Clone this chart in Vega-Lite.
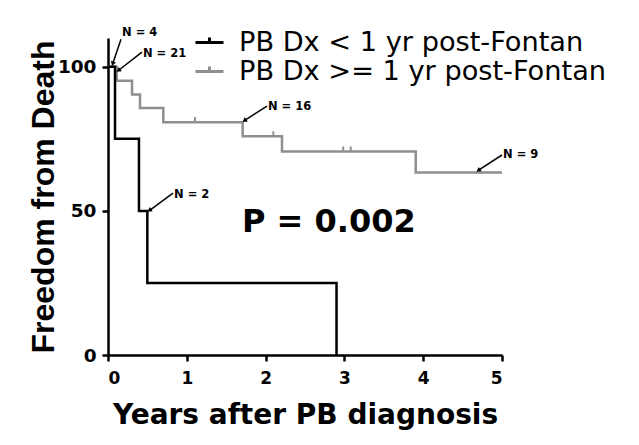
{
  "$schema": "https://vega.github.io/schema/vega-lite/v6.json",
  "width": 394,
  "height": 317,
  "autosize": {"type": "none"},
  "padding": {"left": 108, "top": 38, "right": 137, "bottom": 90},
  "background": "white",
  "config": {
    "view": {"stroke": null},
    "axis": {
      "grid": false,
      "domainColor": "black",
      "domainWidth": 2.5,
      "tickColor": "black",
      "tickWidth": 2.5,
      "tickSize": 6,
      "labelFont": "DejaVu Sans",
      "labelFontWeight": "bold",
      "labelFontSize": 17,
      "labelColor": "black",
      "titleColor": "black"
    }
  },
  "datasets": {
    "curves": [
      {"group": "PB Dx < 1 yr post-Fontan", "t": 0, "s": 100},
      {"group": "PB Dx < 1 yr post-Fontan", "t": 0.089, "s": 75},
      {"group": "PB Dx < 1 yr post-Fontan", "t": 0.393, "s": 50},
      {"group": "PB Dx < 1 yr post-Fontan", "t": 0.499, "s": 25},
      {"group": "PB Dx < 1 yr post-Fontan", "t": 2.9, "s": 0},
      {"group": "PB Dx >= 1 yr post-Fontan", "t": 0, "s": 100},
      {"group": "PB Dx >= 1 yr post-Fontan", "t": 0.11, "s": 95.2},
      {"group": "PB Dx >= 1 yr post-Fontan", "t": 0.305, "s": 90.4},
      {"group": "PB Dx >= 1 yr post-Fontan", "t": 0.406, "s": 85.7},
      {"group": "PB Dx >= 1 yr post-Fontan", "t": 0.702, "s": 80.8},
      {"group": "PB Dx >= 1 yr post-Fontan", "t": 1.709, "s": 75.9},
      {"group": "PB Dx >= 1 yr post-Fontan", "t": 2.208, "s": 70.6},
      {"group": "PB Dx >= 1 yr post-Fontan", "t": 3.905, "s": 63.3},
      {"group": "PB Dx >= 1 yr post-Fontan", "t": 5.0, "s": 63.3}
    ],
    "censor": [
      {"t": 1.104, "s": 80.8},
      {"t": 2.098, "s": 75.9},
      {"t": 2.985, "s": 70.6},
      {"t": 3.08, "s": 70.6}
    ],
    "arrows": [
      {"label": "N = 4", "t1": 0.165, "s1": 109.6, "t2": 0.063, "s2": 101.3},
      {"label": "N = 21", "t1": 0.431, "s1": 105.1, "t2": 0.14, "s2": 98.9},
      {"label": "N = 16", "t1": 2.018, "s1": 86.4, "t2": 1.739, "s2": 81.5},
      {"label": "N = 2", "t1": 0.825, "s1": 56.2, "t2": 0.533, "s2": 50.3},
      {"label": "N = 9", "t1": 5.0, "s1": 69.4, "t2": 4.708, "s2": 64.2}
    ],
    "notes": [
      {"label": "N = 4", "t": 0.178, "s": 111.7},
      {"label": "N = 21", "t": 0.444, "s": 104.4},
      {"label": "N = 16", "t": 2.03, "s": 86.0},
      {"label": "N = 2", "t": 0.838, "s": 55.5},
      {"label": "N = 9", "t": 5.013, "s": 69.4}
    ],
    "pval": [
      {"label": "P = 0.002", "t": 1.70, "s": 42.7}
    ]
  },
  "layer": [
    {
      "data": {"name": "curves"},
      "transform": [{"filter": "datum.group === 'PB Dx >= 1 yr post-Fontan'"}],
      "mark": {"type": "line", "interpolate": "step-after", "strokeWidth": 2.5},
      "encoding": {
        "x": {
          "field": "t", "type": "quantitative",
          "scale": {"domain": [0, 5], "nice": false, "zero": false},
          "axis": {
            "values": [0, 1, 2, 3, 4, 5],
            "format": "d",
            "labelPadding": 9,
            "title": "Years after PB diagnosis",
            "titleFont": "DejaVu Sans",
            "titleFontWeight": "bold",
            "titleFontSize": 28,
            "titleBaseline": "alphabetic",
            "titleY": 68
          }
        },
        "y": {
          "field": "s", "type": "quantitative",
          "scale": {"domain": [0, 110], "nice": false},
          "axis": {
            "values": [0, 50, 100],
            "format": "d",
            "labelPadding": 6,
            "labelFontSize": 18.5,
            "title": "Freedom from Death",
            "titleFont": "Liberation Sans",
            "titleFontWeight": "bold",
            "titleFontSize": 32,
            "titleAngle": -90,
            "titleBaseline": "alphabetic",
            "titleAlign": "center",
            "titleX": -55,
            "titleY": 158.5
          }
        },
        "color": {
          "field": "group", "type": "nominal",
          "scale": {
            "domain": ["PB Dx < 1 yr post-Fontan", "PB Dx >= 1 yr post-Fontan"],
            "range": ["#000000", "#8f8f8f"]
          },
          "legend": {
            "title": null,
            "orient": "none",
            "legendX": 86,
            "legendY": -11,
            "padding": 0,
            "rowPadding": 0,
            "symbolType": "M-1,0H1M0,0V-0.35",
            "symbolSize": 784,
            "symbolStrokeWidth": 3,
            "labelFont": "DejaVu Sans",
            "labelFontSize": 27.2,
            "labelColor": "black",
            "labelOffset": 14,
            "labelLimit": 0
          }
        }
      }
    },
    {
      "data": {"name": "curves"},
      "transform": [{"filter": "datum.group === 'PB Dx < 1 yr post-Fontan'"}],
      "mark": {"type": "line", "interpolate": "step-after", "strokeWidth": 2.5},
      "encoding": {
        "x": {"field": "t", "type": "quantitative"},
        "y": {"field": "s", "type": "quantitative"},
        "color": {"field": "group", "type": "nominal"}
      }
    },
    {
      "data": {"name": "censor"},
      "mark": {"type": "point", "shape": "M0,0V-1", "filled": false, "stroke": "#8f8f8f", "strokeWidth": 2, "size": 100, "opacity": 1},
      "encoding": {
        "x": {"field": "t", "type": "quantitative"},
        "y": {"field": "s", "type": "quantitative"}
      }
    },
    {
      "data": {"name": "arrows"},
      "mark": {"type": "rule", "color": "black", "strokeWidth": 1.5},
      "encoding": {
        "x": {"field": "t1", "type": "quantitative"},
        "y": {"field": "s1", "type": "quantitative"},
        "x2": {"field": "t2"},
        "y2": {"field": "s2"}
      }
    },
    {
      "data": {"name": "arrows"},
      "mark": {"type": "point", "shape": "triangle", "filled": true, "color": "black", "size": 28, "opacity": 1},
      "encoding": {
        "x": {"field": "t2", "type": "quantitative"},
        "y": {"field": "s2", "type": "quantitative"},
        "angle": {"condition": {"test": "datum.label === 'N = 4'", "value": 198}, "value": 235}
      }
    },
    {
      "data": {"name": "notes"},
      "mark": {"type": "text", "align": "left", "baseline": "middle", "font": "DejaVu Sans", "fontWeight": "bold", "fontSize": 11.5, "color": "black"},
      "encoding": {
        "x": {"field": "t", "type": "quantitative"},
        "y": {"field": "s", "type": "quantitative"},
        "text": {"field": "label"}
      }
    },
    {
      "data": {"name": "pval"},
      "mark": {"type": "text", "align": "left", "baseline": "alphabetic", "font": "DejaVu Sans", "fontWeight": "bold", "fontSize": 32, "color": "black"},
      "encoding": {
        "x": {"field": "t", "type": "quantitative"},
        "y": {"field": "s", "type": "quantitative"},
        "text": {"field": "label"}
      }
    }
  ]
}
